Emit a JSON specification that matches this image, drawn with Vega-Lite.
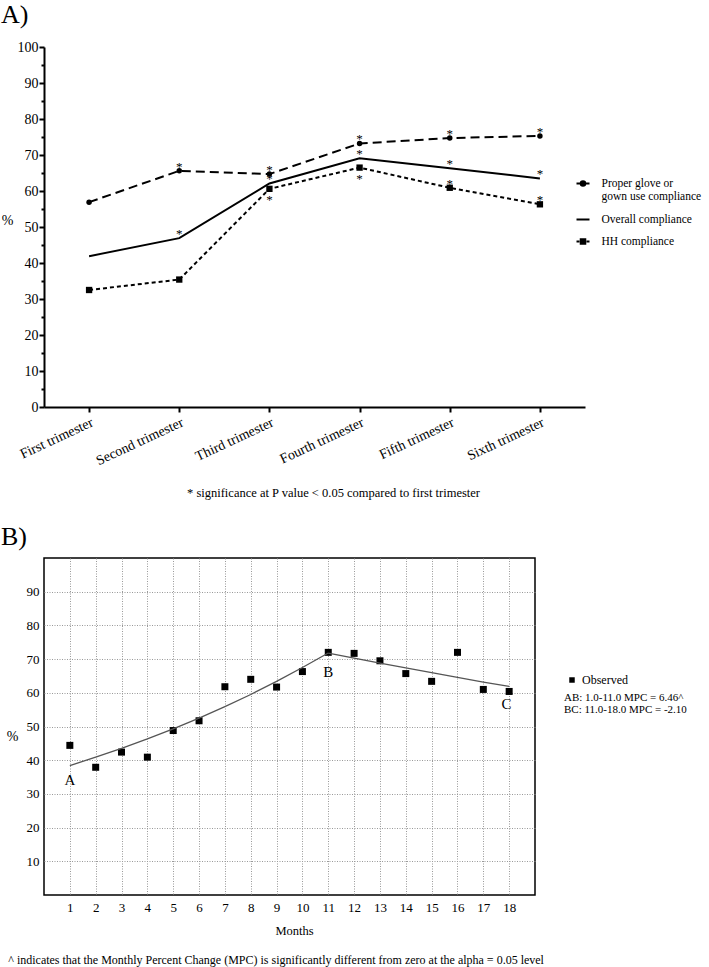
{
  "$schema": "https://vega.github.io/schema/vega-lite/v6.json",
  "padding": {"left": 0, "top": 2, "right": 0, "bottom": 0},
  "config": {
    "font": "Liberation Serif",
    "view": {"stroke": null},
    "concat": {"spacing": 23},
    "title": {"font": "Liberation Serif", "fontWeight": "normal", "color": "black"},
    "axis": {"labelFont": "Liberation Serif", "titleFont": "Liberation Serif", "labelColor": "black", "titleColor": "black", "titleFontWeight": "normal", "domainColor": "black", "tickColor": "black", "labelOverlap": false},
    "legend": {"labelFont": "Liberation Serif", "labelColor": "black", "padding": 0}
  },
  "resolve": {
    "scale": {"shape": "independent", "opacity": "independent"},
    "legend": {"shape": "independent", "opacity": "independent"}
  },
  "datasets": {
    "comp": [
      {"t": 0, "series": "Proper glove or gown use compliance", "value": 56.9, "star": "none"},
      {"t": 1, "series": "Proper glove or gown use compliance", "value": 65.6, "star": "above"},
      {"t": 2, "series": "Proper glove or gown use compliance", "value": 64.7, "star": "above"},
      {"t": 3, "series": "Proper glove or gown use compliance", "value": 73.2, "star": "above"},
      {"t": 4, "series": "Proper glove or gown use compliance", "value": 74.7, "star": "above"},
      {"t": 5, "series": "Proper glove or gown use compliance", "value": 75.3, "star": "above"},
      {"t": 0, "series": "Overall compliance", "value": 41.9, "star": "none"},
      {"t": 1, "series": "Overall compliance", "value": 46.9, "star": "above"},
      {"t": 2, "series": "Overall compliance", "value": 62.1, "star": "above"},
      {"t": 3, "series": "Overall compliance", "value": 69.1, "star": "above"},
      {"t": 4, "series": "Overall compliance", "value": 66.3, "star": "above"},
      {"t": 5, "series": "Overall compliance", "value": 63.5, "star": "above"},
      {"t": 0, "series": "HH compliance", "value": 32.5, "star": "none"},
      {"t": 1, "series": "HH compliance", "value": 35.4, "star": "none"},
      {"t": 2, "series": "HH compliance", "value": 60.6, "star": "below"},
      {"t": 3, "series": "HH compliance", "value": 66.5, "star": "below"},
      {"t": 4, "series": "HH compliance", "value": 60.9, "star": "above"},
      {"t": 5, "series": "HH compliance", "value": 56.3, "star": "above"}
    ],
    "phases": [
      {"phase": "baseline", "start": -0.5, "end": 0.85, "mid": 0.18, "tick": 0.85},
      {"phase": "post-intervention", "start": 0.85, "end": 5.5, "mid": 2.97, "tick": 5}
    ],
    "observed": [
      {"month": 1, "pct": 44.4}, {"month": 2, "pct": 37.9}, {"month": 3, "pct": 42.4},
      {"month": 4, "pct": 40.9}, {"month": 5, "pct": 48.8}, {"month": 6, "pct": 51.7},
      {"month": 7, "pct": 61.8}, {"month": 8, "pct": 64.0}, {"month": 9, "pct": 61.7},
      {"month": 10, "pct": 66.3}, {"month": 11, "pct": 72.0}, {"month": 12, "pct": 71.7},
      {"month": 13, "pct": 69.5}, {"month": 14, "pct": 65.7}, {"month": 15, "pct": 63.4},
      {"month": 16, "pct": 72.0}, {"month": 17, "pct": 61.0}, {"month": 18, "pct": 60.4}
    ],
    "fitted": [
      {"month": 1, "pct": 38.4, "seg": "AB: 1.0-11.0 MPC = 6.46^"},
      {"month": 2, "pct": 40.9, "seg": "AB: 1.0-11.0 MPC = 6.46^"},
      {"month": 3, "pct": 43.5, "seg": "AB: 1.0-11.0 MPC = 6.46^"},
      {"month": 4, "pct": 46.3, "seg": "AB: 1.0-11.0 MPC = 6.46^"},
      {"month": 5, "pct": 49.3, "seg": "AB: 1.0-11.0 MPC = 6.46^"},
      {"month": 6, "pct": 52.5, "seg": "AB: 1.0-11.0 MPC = 6.46^"},
      {"month": 7, "pct": 55.9, "seg": "AB: 1.0-11.0 MPC = 6.46^"},
      {"month": 8, "pct": 59.5, "seg": "AB: 1.0-11.0 MPC = 6.46^"},
      {"month": 9, "pct": 63.4, "seg": "AB: 1.0-11.0 MPC = 6.46^"},
      {"month": 10, "pct": 67.5, "seg": "AB: 1.0-11.0 MPC = 6.46^"},
      {"month": 11, "pct": 71.8, "seg": "AB: 1.0-11.0 MPC = 6.46^"},
      {"month": 11, "pct": 71.8, "seg": "BC: 11.0-18.0 MPC = -2.10"},
      {"month": 12, "pct": 70.3, "seg": "BC: 11.0-18.0 MPC = -2.10"},
      {"month": 13, "pct": 68.8, "seg": "BC: 11.0-18.0 MPC = -2.10"},
      {"month": 14, "pct": 67.4, "seg": "BC: 11.0-18.0 MPC = -2.10"},
      {"month": 15, "pct": 66.0, "seg": "BC: 11.0-18.0 MPC = -2.10"},
      {"month": 16, "pct": 64.6, "seg": "BC: 11.0-18.0 MPC = -2.10"},
      {"month": 17, "pct": 63.2, "seg": "BC: 11.0-18.0 MPC = -2.10"},
      {"month": 18, "pct": 61.9, "seg": "BC: 11.0-18.0 MPC = -2.10"}
    ],
    "abc": [
      {"label": "A", "month": 1, "pct": 34.2},
      {"label": "B", "month": 11, "pct": 66.2},
      {"label": "C", "month": 17.9, "pct": 56.8}
    ]
  },
  "title": {"text": "^ indicates that the Monthly Percent Change (MPC) is significantly different from zero at the alpha = 0.05 level", "orient": "bottom", "anchor": "start", "fontSize": 12, "offset": 18, "dx": 8},
  "vconcat": [
    {
      "width": 541,
      "height": 360,
      "title": {"text": "A)", "anchor": "start", "frame": "group", "dx": -43, "fontSize": 26, "offset": 12},
      "data": {"name": "comp"},
      "encoding": {
        "x": {"field": "t", "type": "quantitative", "scale": {"domain": [-0.5, 5.5], "nice": false, "zero": false},
          "axis": {"values": [0, 1, 2, 3, 4, 5], "labelExpr": "['First trimester','Second trimester','Third trimester','Fourth trimester','Fifth trimester','Sixth trimester'][datum.value]", "labelAngle": -25, "labelAlign": "right", "labelBaseline": "top", "labelFontSize": 14, "labelPadding": 3, "labelOverlap": false, "tickSize": 5, "tickWidth": 2, "domainWidth": 2, "grid": false, "title": "* significance at P value < 0.05 compared to first trimester", "titleFontSize": 12.5, "titlePadding": 19, "titleX": 289}},
        "y": {"field": "value", "type": "quantitative", "scale": {"domain": [0, 100], "nice": false},
          "axis": {"values": [0, 5, 10, 15, 20, 25, 30, 35, 40, 45, 50, 55, 60, 65, 70, 75, 80, 85, 90, 95, 100], "labelExpr": "datum.value % 10 == 0 ? datum.label : ''", "tickSize": {"condition": {"test": "datum.value % 10 == 0", "value": 5}, "value": 3}, "tickWidth": 2, "domainWidth": 2, "labelFontSize": 14, "labelPadding": 1, "grid": false, "title": "%", "titleAngle": 0, "titleFontSize": 14, "titlePadding": 10}}
      },
      "layer": [
        {"transform": [{"filter": "datum.series == 'Proper glove or gown use compliance'"}],
         "mark": {"type": "line", "color": "black", "strokeWidth": 2, "strokeDash": [9, 5]}},
        {"transform": [{"filter": "datum.series == 'Overall compliance'"}],
         "mark": {"type": "line", "color": "black", "strokeWidth": 2}},
        {"transform": [{"filter": "datum.series == 'HH compliance'"}],
         "mark": {"type": "line", "color": "black", "strokeWidth": 2, "strokeDash": [4, 3]}},
        {"transform": [{"filter": "datum.series == 'Proper glove or gown use compliance'"}],
         "mark": {"type": "point", "shape": "circle", "filled": true, "color": "black", "size": 30, "opacity": 1}},
        {"transform": [{"filter": "datum.series == 'HH compliance'"}],
         "mark": {"type": "point", "shape": "square", "filled": true, "color": "black", "size": 40, "opacity": 1}},
        {"transform": [{"filter": "datum.star == 'above'"}],
         "mark": {"type": "text", "text": "*", "fontSize": 13, "baseline": "alphabetic", "dy": 0, "color": "black"}},
        {"transform": [{"filter": "datum.star == 'below'"}],
         "mark": {"type": "text", "text": "*", "fontSize": 13, "baseline": "alphabetic", "dy": 15, "color": "black"}},
        {"data": {"name": "phases"},
         "mark": {"type": "rule", "color": "black", "strokeWidth": 2},
         "encoding": {"x": {"field": "start", "type": "quantitative"}, "x2": {"field": "end"}, "y": {"datum": 100}}},
        {"data": {"name": "phases"},
         "mark": {"type": "point", "shape": "M0,-1V1", "size": 100, "color": "black", "strokeWidth": 2, "opacity": 1},
         "encoding": {"x": {"field": "tick", "type": "quantitative"}, "y": {"datum": 100}}},
        {"data": {"name": "phases"},
         "mark": {"type": "text", "fontSize": 13.5, "baseline": "alphabetic", "dy": -5.5, "color": "black"},
         "encoding": {"x": {"field": "mid", "type": "quantitative"}, "y": {"datum": 100}, "text": {"field": "phase"}}},
        {"transform": [{"filter": "false"}],
         "mark": {"type": "point", "filled": true, "color": "black", "stroke": "black", "strokeWidth": 2},
         "encoding": {"shape": {"field": "series", "type": "nominal",
           "scale": {"domain": ["Proper glove or gown use compliance", "Overall compliance", "HH compliance"], "range": ["M-1,0H1M-0.35,0A0.35,0.35 0 1,1 0.35,0A0.35,0.35 0 1,1 -0.35,0Z", "M-1,0H1", "M-1,0H-0.55M0.55,0H1M-0.35,-0.35H0.35V0.35H-0.35Z"]},
           "legend": {"orient": "none", "legendX": 531.5, "legendY": 129, "title": null, "symbolSize": 169, "symbolStrokeWidth": 2, "symbolOpacity": 1, "labelFontSize": 11.5, "labelOffset": 11, "rowPadding": 9, "labelLimit": 250, "labelExpr": "datum.label == 'Proper glove or gown use compliance' ? ['Proper glove or', 'gown use compliance'] : datum.label"}}}}
      ]
    },
    {
      "width": 491,
      "height": 337,
      "view": {"stroke": "black", "strokeWidth": 1.5},
      "title": {"text": "B)", "anchor": "start", "frame": "group", "dx": -43, "fontSize": 26, "offset": 8},
      "encoding": {
        "x": {"field": "month", "type": "quantitative", "scale": {"domain": [0, 19], "nice": false, "zero": false},
          "axis": {"values": [1, 2, 3, 4, 5, 6, 7, 8, 9, 10, 11, 12, 13, 14, 15, 16, 17, 18], "labelOverlap": false, "grid": true, "gridColor": "#999", "gridDash": [1, 1.5], "gridWidth": 1, "ticks": false, "domain": false, "labelFontSize": 13, "labelPadding": 6, "title": "Months", "titleFontSize": 12.5, "titlePadding": 10, "titleX": 250}},
        "y": {"field": "pct", "type": "quantitative", "scale": {"domain": [0, 100], "nice": false},
          "axis": {"values": [10, 20, 30, 40, 50, 60, 70, 80, 90], "labelOverlap": false, "grid": true, "gridColor": "#999", "gridDash": [1, 1.5], "gridWidth": 1, "ticks": false, "domain": false, "labelFontSize": 13, "labelPadding": 5, "title": "%", "titleAngle": 0, "titleFontSize": 14, "titleY": 185, "titlePadding": 14}}
      },
      "layer": [
        {"data": {"name": "observed"},
         "mark": {"type": "point", "filled": true, "color": "black", "size": 49, "opacity": 1},
         "encoding": {
           "shape": {"datum": "Observed", "scale": {"range": ["square"]},
             "legend": {"orient": "none", "legendX": 522, "legendY": 116, "title": null, "symbolSize": 30, "symbolOpacity": 1, "labelFontSize": 12, "labelOffset": 4}}
         }},
        {"data": {"name": "fitted"},
         "mark": {"type": "line", "color": "#555", "strokeWidth": 1.3},
         "encoding": {
           "opacity": {"field": "seg", "type": "ordinal", "scale": {"range": [1, 1]},
             "legend": {"orient": "none", "legendX": 509, "legendY": 134, "title": null, "symbolSize": 0, "symbolOpacity": 0, "labelOffset": 0, "labelFontSize": 11, "rowPadding": 0, "labelLimit": 300}}
         }},
        {"data": {"name": "abc"},
         "mark": {"type": "text", "fontSize": 15, "baseline": "middle", "color": "black"},
         "encoding": {"text": {"field": "label"}}}
      ]
    }
  ]
}
